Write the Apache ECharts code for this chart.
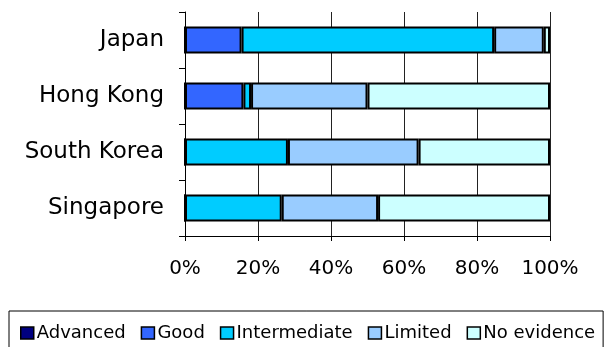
<!DOCTYPE html>
<html>
<head>
<meta charset="utf-8">
<script src="https://cdn.jsdelivr.net/npm/echarts@6/dist/echarts.min.js"></script>
<style>
  html, body { margin: 0; padding: 0; background: #fff; }
  #chart { width: 608px; height: 347px; }
</style>
</head>
<body>
<div id="chart"></div>
<script>
// Regions, top to bottom
const categories = ['Japan', 'Hong Kong', 'South Korea', 'Singapore'];

// Share of each rating level (%)
const advanced     = [0, 0, 0, 0];
const good         = [15.5, 16.0, 0, 0];
const intermediate = [69.2, 2.1, 28.2, 26.5];
const limited      = [13.6, 31.9, 35.8, 26.4];
const noEvidence   = [1.7, 50.0, 36.0, 47.1];

const xTicks = [0, 20, 40, 60, 80, 100];

const seriesDefs = [
  { name: 'Advanced', data: advanced, color: '#000080' },
  { name: 'Good', data: good, color: '#3366FF' },
  { name: 'Intermediate', data: intermediate, color: '#00CCFF' },
  { name: 'Limited', data: limited, color: '#99CCFF' },
  { name: 'No evidence', data: noEvidence, color: '#CCFFFF' }
];

const font = 'DejaVu Sans, Verdana, sans-serif';
const chart = echarts.init(document.getElementById('chart'));

chart.setOption({
  animation: false,
  backgroundColor: '#fff',
  grid: { left: 185, right: 58, top: 12, bottom: 111, containLabel: false },
  xAxis: {
    type: 'value',
    min: xTicks[0],
    max: xTicks[xTicks.length - 1],
    interval: xTicks[1] - xTicks[0],
    axisLine: { show: true, lineStyle: { color: '#000', width: 1 } },
    axisTick: { show: true, length: 5, lineStyle: { color: '#000' } },
    splitLine: { show: true, lineStyle: { color: '#222', width: 1 } },
    axisLabel: { formatter: '{value}%', color: '#000', fontSize: 20, fontFamily: font, margin: 23 }
  },
  yAxis: {
    type: 'category',
    inverse: true,
    data: categories,
    axisLine: { show: true, lineStyle: { color: '#000', width: 1 } },
    axisTick: { show: true, length: 6, lineStyle: { color: '#000' } },
    axisLabel: { color: '#000', fontSize: 23, fontFamily: font, margin: 21 }
  },
  legend: {
    left: 9,
    top: 311,
    orient: 'horizontal',
    padding: [13, 8, 14, 11],
    borderColor: '#000',
    borderWidth: 1,
    itemWidth: 13,
    itemHeight: 12,
    itemGap: 15,
    icon: 'rect',
    textStyle: { color: '#000', fontSize: 18, fontFamily: font, padding: [0, 0, 0, -2] },
    data: seriesDefs.map(s => ({
      name: s.name,
      itemStyle: { color: s.color, borderColor: '#000', borderWidth: 1.5 }
    }))
  },
  series: seriesDefs.map(s => ({
    name: s.name,
    type: 'bar',
    stack: 'total',
    barWidth: 27,
    data: s.data,
    itemStyle: { color: s.color, borderColor: '#000', borderWidth: 2 }
  }))
});
</script>
</body>
</html>
